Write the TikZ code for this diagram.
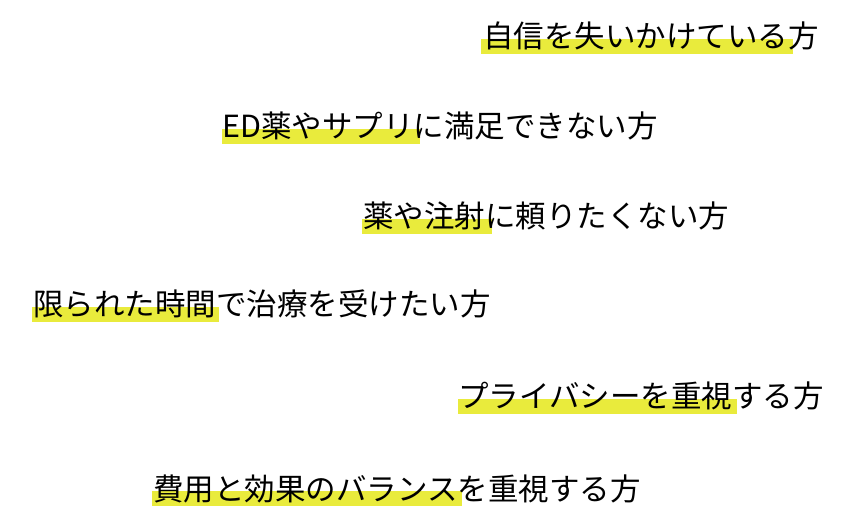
\documentclass[tikz,border=0pt]{standalone}
\usepackage{fontspec}
\setmainfont{Noto Sans CJK JP}
\definecolor{hl}{HTML}{E9EB3C}
\begin{document}
\begin{tikzpicture}[x=1pt,y=-1pt,
  txt/.style={anchor=base west,inner sep=0pt,font=\fontsize{30.5}{34}\selectfont,text=black}]
\useasboundingbox[fill=white] (0,0) rectangle (860,521);
\fill[hl] (481,39) rectangle (793,54);
\fill[hl] (222,129) rectangle (420,144);
\fill[hl] (362,219) rectangle (492,234);
\fill[hl] (32,307) rectangle (219,322);
\fill[hl] (458,399) rectangle (737,414);
\fill[hl] (152,491) rectangle (462,506);
\node[txt] (l1) at (483,48) {自信を失いかけている方};
\node[txt] (l2) at (222,138) {ED薬やサプリに満足できない方};
\node[txt] (l3) at (363,228) {薬や注射に頼りたくない方};
\node[txt] (l4) at (33,316) {限られた時間で治療を受けたい方};
\node[txt] (l5) at (458,408) {プライバシーを重視する方};
\node[txt] (l6) at (153,500) {費用と効果のバランスを重視する方};
\end{tikzpicture}
\end{document}
